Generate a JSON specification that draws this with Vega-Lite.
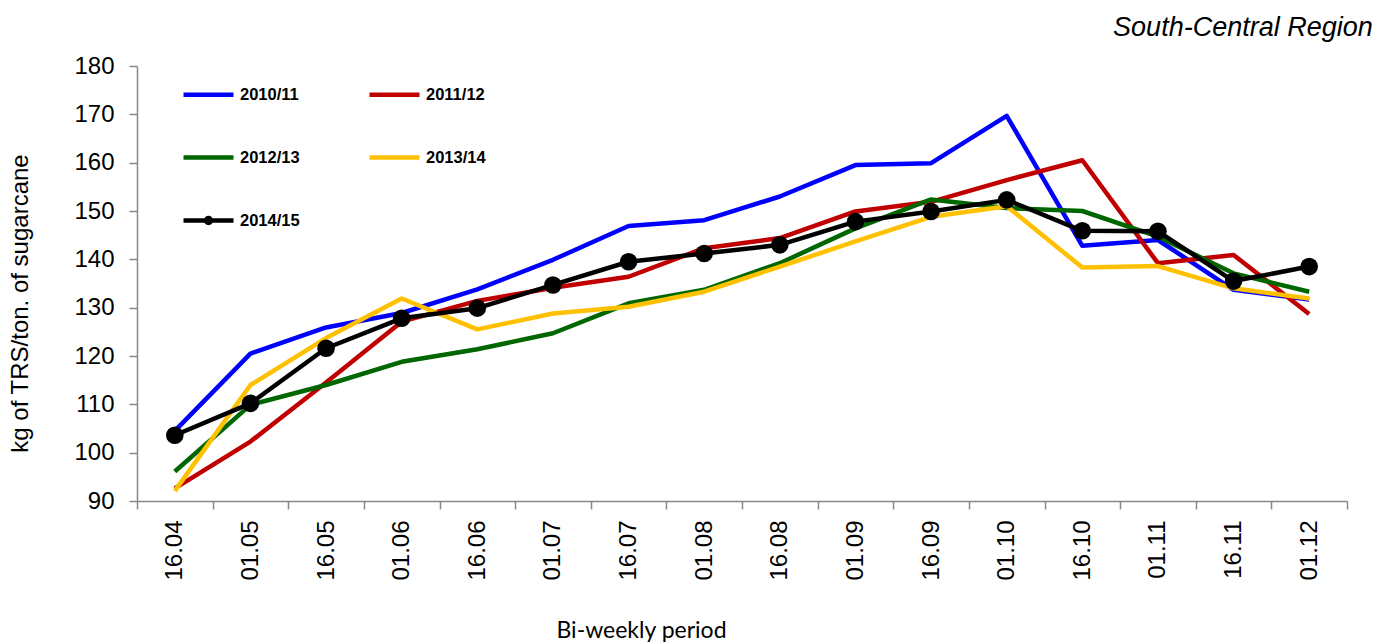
{
  "$schema": "https://vega.github.io/schema/vega-lite/v6.json",
  "autosize": {"type": "none"},
  "width": 1210,
  "height": 435,
  "padding": {"left": 137, "top": 66, "right": 42, "bottom": 143},
  "background": "white",
  "config": {
    "font": "Liberation Sans",
    "view": {"stroke": null},
    "axis": {"grid": false, "domainColor": "#898989", "tickColor": "#898989", "domainWidth": 1.5, "tickWidth": 1.5, "labelColor": "#000", "titleColor": "#000", "labelFont": "Liberation Sans", "titleFont": "Liberation Sans", "titleFontWeight": "normal"}
  },
  "title": {"text": "South-Central Region", "anchor": "end", "fontStyle": "italic", "fontWeight": "normal", "fontSize": 27, "font": "Liberation Sans", "color": "#000", "dx": 25, "offset": 12},
  "data": {"values": [
    {"p":"16.04","s":"2010/11","v":104.5},{"p":"01.05","s":"2010/11","v":120.5},{"p":"16.05","s":"2010/11","v":125.9},{"p":"01.06","s":"2010/11","v":128.9},{"p":"16.06","s":"2010/11","v":133.8},{"p":"01.07","s":"2010/11","v":139.9},{"p":"16.07","s":"2010/11","v":146.9},{"p":"01.08","s":"2010/11","v":148.1},{"p":"16.08","s":"2010/11","v":153.0},{"p":"01.09","s":"2010/11","v":159.5},{"p":"16.09","s":"2010/11","v":159.9},{"p":"01.10","s":"2010/11","v":169.7},{"p":"16.10","s":"2010/11","v":142.8},{"p":"01.11","s":"2010/11","v":144.0},{"p":"16.11","s":"2010/11","v":133.7},{"p":"01.12","s":"2010/11","v":131.7},
    {"p":"16.04","s":"2011/12","v":92.6},{"p":"01.05","s":"2011/12","v":102.3},{"p":"16.05","s":"2011/12","v":114.5},{"p":"01.06","s":"2011/12","v":127.1},{"p":"16.06","s":"2011/12","v":131.4},{"p":"01.07","s":"2011/12","v":134.1},{"p":"16.07","s":"2011/12","v":136.4},{"p":"01.08","s":"2011/12","v":142.3},{"p":"16.08","s":"2011/12","v":144.4},{"p":"01.09","s":"2011/12","v":149.9},{"p":"16.09","s":"2011/12","v":151.9},{"p":"01.10","s":"2011/12","v":156.4},{"p":"16.10","s":"2011/12","v":160.5},{"p":"01.11","s":"2011/12","v":139.2},{"p":"16.11","s":"2011/12","v":140.9},{"p":"01.12","s":"2011/12","v":128.7},
    {"p":"16.04","s":"2012/13","v":96.1},{"p":"01.05","s":"2012/13","v":109.9},{"p":"16.05","s":"2012/13","v":114.0},{"p":"01.06","s":"2012/13","v":118.8},{"p":"16.06","s":"2012/13","v":121.4},{"p":"01.07","s":"2012/13","v":124.7},{"p":"16.07","s":"2012/13","v":130.9},{"p":"01.08","s":"2012/13","v":133.7},{"p":"16.08","s":"2012/13","v":139.2},{"p":"01.09","s":"2012/13","v":146.4},{"p":"16.09","s":"2012/13","v":152.4},{"p":"01.10","s":"2012/13","v":150.6},{"p":"16.10","s":"2012/13","v":150.0},{"p":"01.11","s":"2012/13","v":144.7},{"p":"16.11","s":"2012/13","v":137.1},{"p":"01.12","s":"2012/13","v":133.3},
    {"p":"16.04","s":"2013/14","v":92.1},{"p":"01.05","s":"2013/14","v":114.0},{"p":"16.05","s":"2013/14","v":123.7},{"p":"01.06","s":"2013/14","v":131.9},{"p":"16.06","s":"2013/14","v":125.5},{"p":"01.07","s":"2013/14","v":128.8},{"p":"16.07","s":"2013/14","v":130.2},{"p":"01.08","s":"2013/14","v":133.3},{"p":"16.08","s":"2013/14","v":138.5},{"p":"01.09","s":"2013/14","v":143.7},{"p":"16.09","s":"2013/14","v":148.8},{"p":"01.10","s":"2013/14","v":151.0},{"p":"16.10","s":"2013/14","v":138.3},{"p":"01.11","s":"2013/14","v":138.6},{"p":"16.11","s":"2013/14","v":134.0},{"p":"01.12","s":"2013/14","v":131.9},
    {"p":"16.04","s":"2014/15","v":103.6},{"p":"01.05","s":"2014/15","v":110.2},{"p":"16.05","s":"2014/15","v":121.6},{"p":"01.06","s":"2014/15","v":127.8},{"p":"16.06","s":"2014/15","v":129.9},{"p":"01.07","s":"2014/15","v":134.7},{"p":"16.07","s":"2014/15","v":139.5},{"p":"01.08","s":"2014/15","v":141.2},{"p":"16.08","s":"2014/15","v":143.0},{"p":"01.09","s":"2014/15","v":147.8},{"p":"16.09","s":"2014/15","v":149.9},{"p":"01.10","s":"2014/15","v":152.3},{"p":"16.10","s":"2014/15","v":145.9},{"p":"01.11","s":"2014/15","v":145.8},{"p":"16.11","s":"2014/15","v":135.5},{"p":"01.12","s":"2014/15","v":138.5}
  ]},
  "encoding": {
    "x": {"field": "p", "type": "ordinal", "sort": null, "bandPosition": 0.5,
      "scale": {"type": "band", "paddingInner": 0, "paddingOuter": 0},
      "axis": {"title": "Bi-weekly period", "tickBand": "extent", "tickSize": 8, "labelAngle": -90, "labelAlign": "right", "labelBaseline": "middle", "labelPadding": 11, "labelFontSize": 24, "titleFont": "Lato", "titleFontSize": 23, "titleX": 504, "titleY": 129, "titleAlign": "center", "titleBaseline": "middle"}},
    "y": {"field": "v", "type": "quantitative",
      "scale": {"domain": [90, 180], "nice": false, "zero": false},
      "axis": {"title": "kg of TRS/ton. of sugarcane", "values": [90,100,110,120,130,140,150,160,170,180], "tickSize": 8, "labelPadding": 15, "labelFontSize": 24, "titleFontSize": 24, "titleX": -117, "titleY": 237, "titleAlign": "center", "titleBaseline": "middle", "titleAngle": -90}}
  },
  "layer": [
    {
      "mark": {"type": "line", "strokeWidth": 4.5, "strokeJoin": "round"},
      "encoding": {
        "color": {"field": "s", "type": "nominal",
          "scale": {"domain": ["2010/11","2011/12","2012/13","2013/14","2014/15"], "range": ["#0000FF","#C00000","#006600","#FFC000","#000000"]},
          "legend": {"title": null, "orient": "none", "legendX": 44, "legendY": 1, "columns": 2, "direction": "horizontal", "symbolType": "stroke", "symbolSize": 2500, "symbolStrokeWidth": 4.5, "labelFontSize": 16.5, "labelFontWeight": "bold", "labelFont": "Liberation Sans", "labelColor": "#000", "labelOffset": 4, "columnPadding": 60, "rowPadding": 26,
            "encode": {"symbols": {"update": {
              "shape": {"signal": "datum.value === '2014/15' ? 'M-1,0H1M0.1,0A0.1,0.1 0 1,1 -0.1,0A0.1,0.1 0 1,1 0.1,0Z' : 'stroke'"},
              "fill": {"signal": "datum.value === '2014/15' ? '#000' : 'transparent'"}
            }}}}
        }
      }
    },
    {
      "transform": [{"filter": "datum.s === '2014/15'"}],
      "mark": {"type": "point", "filled": true, "size": 310, "opacity": 1, "color": "#000"}
    }
  ]
}
